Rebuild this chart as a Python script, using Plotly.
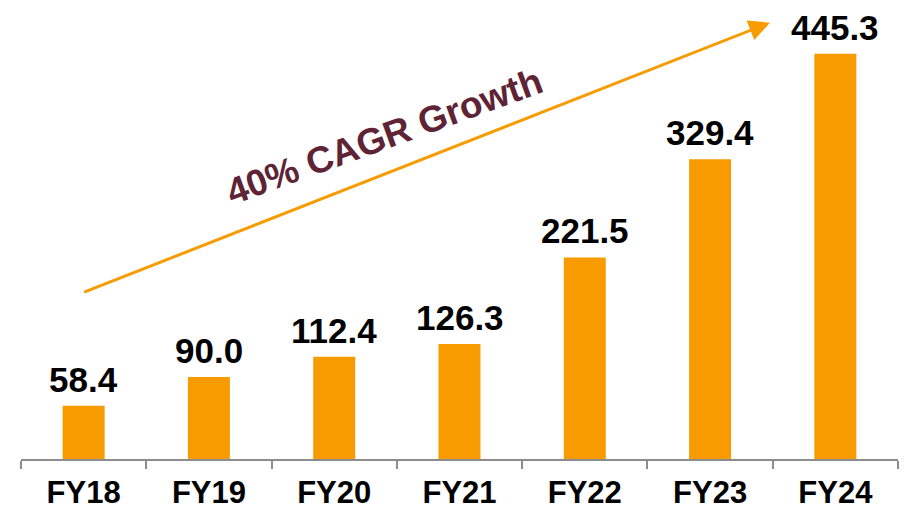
import plotly.graph_objects as go

categories = ["FY18", "FY19", "FY20", "FY21", "FY22", "FY23", "FY24"]
values = [58.4, 90.0, 112.4, 126.3, 221.5, 329.4, 445.3]
value_labels = ["58.4", "90.0", "112.4", "126.3", "221.5", "329.4", "445.3"]
cagr_text = "40% CAGR Growth"

ORANGE = "#F89B00"
MAROON = "#5E2436"
FONT = "Liberation Sans, Arial, sans-serif"

fig = go.Figure()
fig.add_trace(go.Bar(x=categories, y=values, marker_color=ORANGE,
                     marker_line_width=0, hoverinfo="skip"))

for c, v, t in zip(categories, values, value_labels):
    fig.add_annotation(x=c, y=v, text=t, showarrow=False, yanchor="bottom",
                       yshift=6, borderpad=0,
                       font=dict(family=FONT, size=35, color="#000000", weight="bold"))

# CAGR arrow
fig.add_annotation(x=5.478, y=479.5, ax=-0.008, ay=182.7, xref="x", yref="y",
                   axref="x", ayref="y", text="", showarrow=True,
                   arrowhead=2, arrowsize=1.4, arrowwidth=3, arrowcolor=ORANGE)
fig.add_annotation(x=2.40, y=354, xref="x", yref="y", text=cagr_text,
                   showarrow=False, textangle=-20,
                   font=dict(family=FONT, size=37, color=MAROON, weight="bold"))

fig.update_layout(
    width=912, height=512,
    margin=dict(l=13, r=22, t=0, b=61),
    plot_bgcolor="white", paper_bgcolor="white",
    bargap=0.665, showlegend=False,
    xaxis=dict(type="category", showline=True, linecolor="#8C8C8C", linewidth=1.5,
               ticks="outside", tickson="boundaries", ticklen=8, tickcolor="#8C8C8C",
               tickwidth=1.5, showgrid=False, range=[-0.5, 6.5], ticklabelstandoff=5,
               tickfont=dict(family=FONT, size=31, color="#000000", weight="bold")),
    yaxis=dict(visible=False, range=[0, 495.6], showgrid=False),
)

fig.write_html("out.html")
